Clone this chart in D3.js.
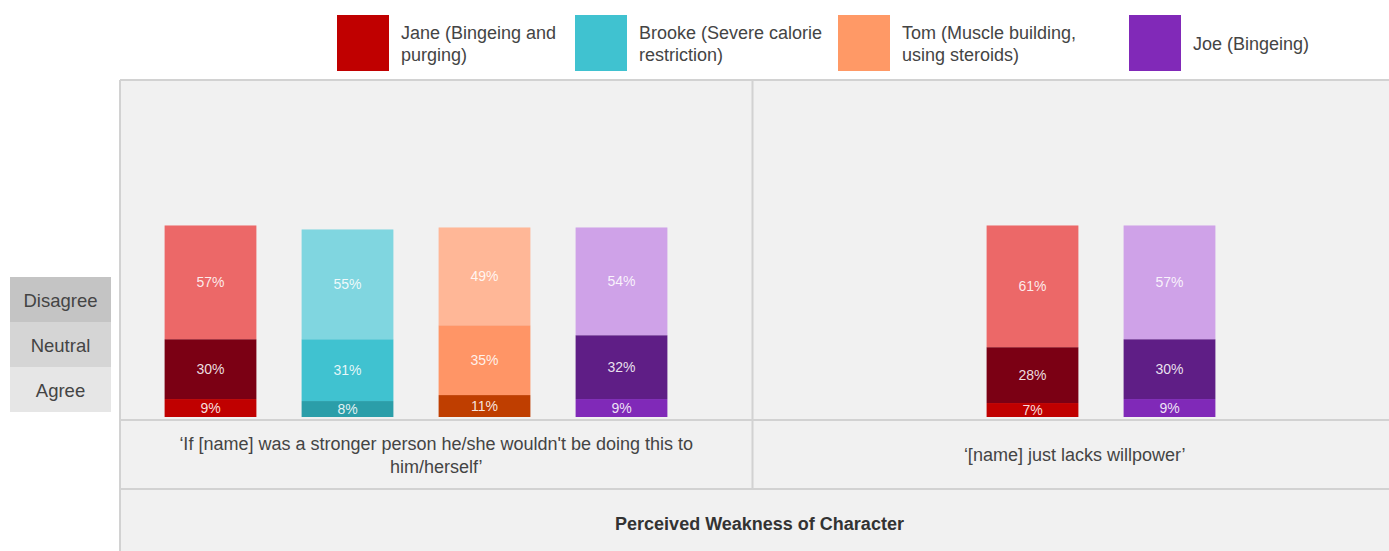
<!DOCTYPE html>
<html>
<head>
<meta charset="utf-8">
<script src="https://cdn.jsdelivr.net/npm/d3@7"></script>
<style>
  html, body { margin: 0; padding: 0; background: #ffffff; }
  svg { display: block; font-family: "Liberation Sans", Arial, sans-serif; }
</style>
</head>
<body>
<svg id="chart" width="1389" height="551"></svg>
<script>
// Survey responses, percent of respondents per character and statement
const characters = ["Jane", "Brooke", "Tom", "Joe"];
const legendLabels = [
  ["Jane (Bingeing and", "purging)"],
  ["Brooke (Severe calorie", "restriction)"],
  ["Tom (Muscle building,", "using steroids)"],
  ["Joe (Bingeing)"]
];
const responses = ["Agree", "Neutral", "Disagree"];
const statements = [
  ["\u2018If [name] was a stronger person he/she wouldn't be doing this to", "him/herself\u2019"],
  ["\u2018[name] just lacks willpower\u2019"]
];
const axisTitle = "Perceived Weakness of Character";

// statement 1
const s1Characters = ["Jane", "Brooke", "Tom", "Joe"];
const s1Agree    = [9, 8, 11, 9];
const s1Neutral  = [30, 31, 35, 32];
const s1Disagree = [57, 55, 49, 54];

// statement 2
const s2Characters = ["Jane", "Joe"];
const s2Agree    = [7, 9];
const s2Neutral  = [28, 30];
const s2Disagree = [61, 57];

// Colours
const legendColor = { Jane: "#c00000", Brooke: "#40c2d0", Tom: "#ff9966", Joe: "#8129b8" };
const shade = {
  Jane:   { Agree: "#c00000", Neutral: "#7b0014", Disagree: "#ec6868" },
  Brooke: { Agree: "#2b9ea9", Neutral: "#40c2d0", Disagree: "#80d6e0" },
  Tom:    { Agree: "#bf3e00", Neutral: "#ff9566", Disagree: "#ffb797" },
  Joe:    { Agree: "#8029b8", Neutral: "#5f1e86", Disagree: "#cfa2e8" }
};
const responseBg = { Disagree: "#c4c4c4", Neutral: "#d5d5d5", Agree: "#e6e6e6" };

const svg = d3.select("#chart");
const W = 1389, H = 551;

// Frame geometry
const frameLeft = 120, frameTop = 80, plotBottom = 419, labelBottom = 489, divider = 752.5;
const gridColor = "#d2d2d2";

// Background panels
svg.append("rect").attr("x", frameLeft).attr("y", frameTop)
  .attr("width", W - frameLeft).attr("height", H - frameTop).attr("fill", "#f1f1f1");

// Value scale shared by both panels
const y = d3.scaleLinear().domain([0, 100]).range([417, 217.5]);

function buildRows(chars, agree, neutral, disagree) {
  return chars.map((c, i) => ({ character: c, Agree: agree[i], Neutral: neutral[i], Disagree: disagree[i] }));
}
const panels = [
  { rows: buildRows(s1Characters, s1Agree, s1Neutral, s1Disagree), range: [142, 690], chars: s1Characters },
  { rows: buildRows(s2Characters, s2Agree, s2Neutral, s2Disagree), range: [964, 1238], chars: s2Characters }
];

const stack = d3.stack().keys(responses);

panels.forEach(p => {
  const x = d3.scaleBand().domain(p.chars).range(p.range).paddingInner(0.33).paddingOuter(0.165);
  const series = stack(p.rows);
  const g = svg.append("g");
  series.forEach(s => {
    const key = s.key;
    s.forEach(d => {
      const c = d.data.character;
      g.append("rect")
        .attr("x", x(c)).attr("width", x.bandwidth())
        .attr("y", y(d[1])).attr("height", y(d[0]) - y(d[1]))
        .attr("fill", shade[c][key]);
      g.append("text")
        .attr("x", x(c) + x.bandwidth() / 2)
        .attr("y", (y(d[0]) + y(d[1])) / 2)
        .attr("dy", "0.36em")
        .attr("text-anchor", "middle")
        .attr("font-size", 14)
        .attr("fill", "#ffffff").attr("fill-opacity", 0.88)
        .text(d.data[key] + "%");
    });
  });
});

// Grid lines
const lines = [
  [frameLeft, frameTop, W, frameTop],
  [frameLeft, frameTop, frameLeft, H],
  [divider, frameTop, divider, labelBottom],
  [frameLeft, plotBottom + 1, W, plotBottom + 1],
  [frameLeft, labelBottom, W, labelBottom]
];
svg.append("g").selectAll("line").data(lines).join("line")
  .attr("x1", d => d[0]).attr("y1", d => d[1]).attr("x2", d => d[2]).attr("y2", d => d[3])
  .attr("stroke", gridColor).attr("stroke-width", 2);

// Statement labels
const panelCenters = [(frameLeft + divider) / 2, (divider + W) / 2 + 4];
statements.forEach((lines, i) => {
  const midY = (plotBottom + labelBottom) / 2 + 1;
  const lh = 23;
  const t = svg.append("text")
    .attr("text-anchor", "middle").attr("font-size", 18).attr("fill", "#444");
  lines.forEach((ln, j) => {
    t.append("tspan").attr("x", panelCenters[i])
      .attr("y", midY + (j - (lines.length - 1) / 2) * lh)
      .attr("dy", "0.35em").text(ln);
  });
});

// Axis title
svg.append("text").attr("x", (frameLeft + W) / 2 + 5).attr("y", 524)
  .attr("dy", "0.35em").attr("text-anchor", "middle")
  .attr("font-size", 18).attr("font-weight", "bold").attr("fill", "#333")
  .text(axisTitle);

// Response key on the left
const keyOrder = ["Disagree", "Neutral", "Agree"];
const keyY = d3.scaleBand().domain(keyOrder).range([277, 412]);
const kg = svg.append("g");
keyOrder.forEach(k => {
  kg.append("rect").attr("x", 10).attr("y", keyY(k)).attr("width", 101)
    .attr("height", keyY.bandwidth()).attr("fill", responseBg[k]);
  kg.append("text").attr("x", 60.5).attr("y", keyY(k) + keyY.bandwidth() / 2 + 1)
    .attr("dy", "0.35em").attr("text-anchor", "middle")
    .attr("font-size", 18.5).attr("fill", "#444").text(k);
});

// Legend
const legendX = [337, 575, 838, 1129];
const lg = svg.append("g");
characters.forEach((c, i) => {
  lg.append("rect").attr("x", legendX[i]).attr("y", 15).attr("width", 52).attr("height", 56)
    .attr("fill", legendColor[c]);
  const lines = legendLabels[i];
  const t = lg.append("text").attr("font-size", 18).attr("fill", "#444");
  lines.forEach((ln, j) => {
    t.append("tspan").attr("x", legendX[i] + 64)
      .attr("y", 44 + (j - (lines.length - 1) / 2) * 22)
      .attr("dy", "0.35em").text(ln);
  });
});
</script>
</body>
</html>
